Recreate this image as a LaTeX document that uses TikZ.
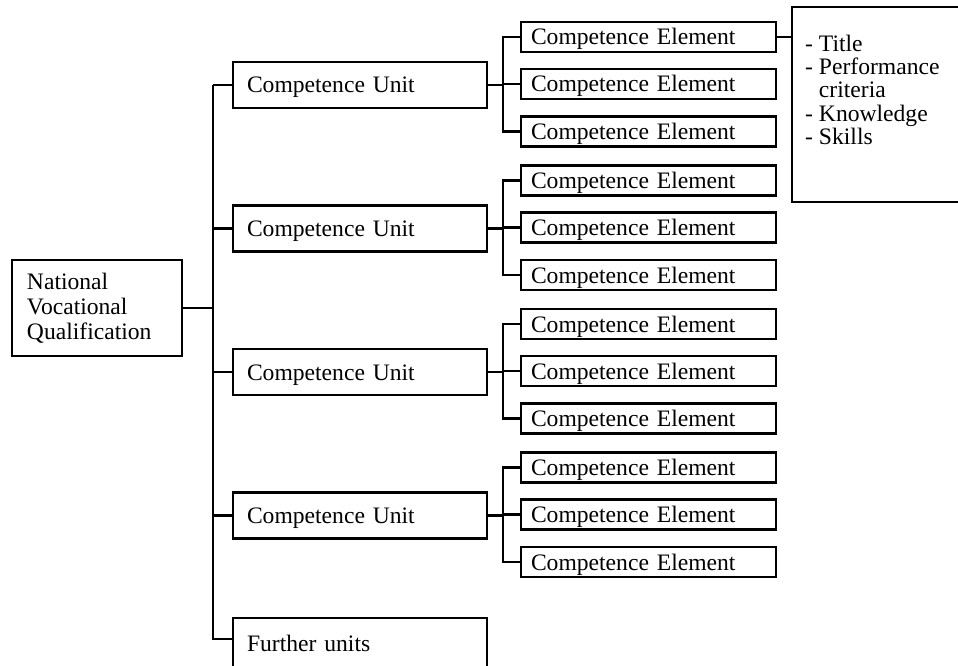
\documentclass[tikz,border=0pt]{standalone}
\usepackage{fontspec}
\setmainfont{Liberation Serif}
\begin{document}
\begin{tikzpicture}[x=1pt,y=-1pt,
  box/.style={draw, line width=2.5pt, inner ysep=0pt, align=left, font=\fontsize{23.6}{25}\selectfont},
  elembox/.style={box, inner xsep=10pt, text width=235pt, text height=23pt, text depth=7pt},
  unitbox/.style={box, inner xsep=14pt, text width=226pt, text height=31pt, text depth=15pt},
  link/.style={line width=2.3pt}]
\useasboundingbox (0,0) rectangle (958,666);
\coordinate (tr) at (213,0);
\coordinate (bx) at (503,0);
% root
\node[box, inner xsep=15pt, text width=140pt, minimum height=96pt, yshift=-2pt] (nvq) at (97,306) {National\\Vocational\\Qualification};
% units and elements
\foreach \i/\y in {1/85,2/228.5,3/372,4/515.5} {
  \node[unitbox] (u\i) at (360,\y) {Competence Unit};
  \foreach \j/\d in {1/-48,2/-1,3/46.5}
    \node[elembox] (e\i\j) at (648.5,\y+\d) {Competence Element};
  \draw[link] (u\i.west) -- (u\i.west -| tr);
  \draw[link] (u\i.east) -- (u\i.east -| bx);
  \draw[link] (e\i1.west) -- (e\i1.west -| bx) -- (e\i3.west -| bx) -- (e\i3.west);
  \draw[link] (e\i2.west) -- (e\i2.west -| bx);
}
% further units
\node[unitbox, text height=33pt, text depth=23pt] (fu) at (360,646) {Further units};
% info box
\node[draw, line width=2.5pt, minimum width=178pt, minimum height=195pt, inner sep=0pt] (info) at (881,104.5) {};
\node[anchor=north west, inner sep=0pt, align=left, font=\fontsize{23.6}{23.3}\selectfont] (infotxt) at (805,34.8)
  {- Title\\- Performance\\\phantom{-}\ criteria\\- Knowledge\\- Skills};
% connectors
\draw[link] (nvq.east) -- (nvq.east -| tr);
\draw[link] (u1.west -| tr) -- ([yshift=-22pt]fu.north west -| tr) -- ([yshift=-22pt]fu.north west);
\draw[link] (e11.east) -- (e11.east -| info.west);
\end{tikzpicture}
\end{document}
